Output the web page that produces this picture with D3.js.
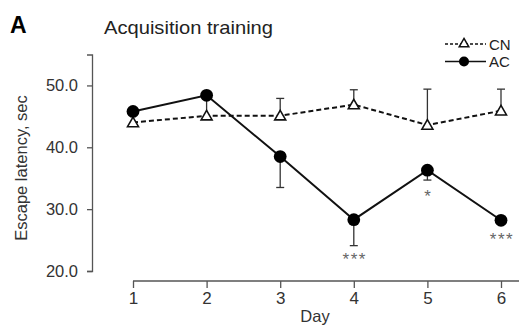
<!DOCTYPE html>
<html>
<head>
<meta charset="utf-8">
<script src="https://cdn.jsdelivr.net/npm/d3@7"></script>
<style>
  body { margin: 0; background: #fff; }
  svg { font-family: Arial, "Liberation Sans", sans-serif; }
</style>
</head>
<body>
<svg id="chart" width="519" height="325"></svg>
<script>
var days = [1, 2, 3, 4, 5, 6];
var cnValues = [44.0, 45.1, 45.1, 46.9, 43.6, 45.9];
var cnErrUp = [44.0, 45.1, 47.9, 49.3, 49.4, 49.4];
var acValues = [45.8, 48.4, 38.5, 28.3, 36.3, 28.2];
var acErrDown = [45.8, 45.3, 33.5, 24.1, 34.7, 27.8];
var stars = ["", "", "", "***", "*", "***"];
var starY = [0, 0, 0, 22.3, 32.4, 25.5];
var yTicks = [20, 30, 40, 50];

var svg = d3.select("#chart");

var x = d3.scaleLinear().domain([1, 6]).range([133, 501]);
var y = d3.scaleLinear().domain([20, 55]).range([271, 54.5]);

var axisColor = "#555";

// y axis
var yAxis = svg.append("g")
    .attr("transform", "translate(92,0)")
    .call(d3.axisLeft(y).tickValues(yTicks).tickSizeOuter(0).tickSize(5).tickPadding(9)
        .tickFormat(d3.format(".1f")));
yAxis.select(".domain").attr("stroke", axisColor).attr("stroke-width", 1.3);
yAxis.selectAll(".tick line").attr("stroke", axisColor).attr("stroke-width", 1.3);
yAxis.selectAll("text").attr("font-size", 16.5).attr("fill", "#333");

// x axis
var xAxis = svg.append("g")
    .attr("transform", "translate(0,281)")
    .call(d3.axisBottom(x).tickValues(days).tickSizeOuter(0).tickSize(7).tickPadding(4)
        .tickFormat(d3.format("d")));
xAxis.select(".domain").attr("d", "M133,0H519").attr("stroke", axisColor).attr("stroke-width", 1.3);
xAxis.selectAll(".tick line").attr("stroke", axisColor).attr("stroke-width", 1.3);
xAxis.selectAll("text").attr("font-size", 17).attr("fill", "#333");

svg.append("text")
    .attr("x", 315).attr("y", 322)
    .attr("text-anchor", "middle")
    .attr("font-size", 16.5).attr("fill", "#333")
    .text("Day");

svg.append("text")
    .attr("transform", "translate(27,168) rotate(-90)")
    .attr("text-anchor", "middle")
    .attr("font-size", 16.5).attr("fill", "#333")
    .text("Escape latency, sec");

svg.append("text")
    .attr("x", 10).attr("y", 33)
    .attr("font-size", 23).attr("font-weight", "bold")
    .attr("fill", "#000")
    .text("A");

svg.append("text")
    .attr("x", 104).attr("y", 34)
    .attr("font-size", 18.5).attr("fill", "#222")
    .attr("textLength", 169).attr("lengthAdjust", "spacingAndGlyphs")
    .text("Acquisition training");

var line = d3.line()
    .x(function(d, i) { return x(days[i]); })
    .y(function(d) { return y(d); });

// CN error bars (upward)
cnValues.forEach(function(v, i) {
    if (cnErrUp[i] - v < 0.5) return;
    svg.append("line")
        .attr("x1", x(days[i])).attr("x2", x(days[i]))
        .attr("y1", y(v)).attr("y2", y(cnErrUp[i]))
        .attr("stroke", "#333").attr("stroke-width", 1.3);
    svg.append("line")
        .attr("x1", x(days[i]) - 4).attr("x2", x(days[i]) + 4)
        .attr("y1", y(cnErrUp[i])).attr("y2", y(cnErrUp[i]))
        .attr("stroke", "#333").attr("stroke-width", 1.3);
});

// AC error bars (downward)
acValues.forEach(function(v, i) {
    if (v - acErrDown[i] < 0.3) return;
    svg.append("line")
        .attr("x1", x(days[i])).attr("x2", x(days[i]))
        .attr("y1", y(v)).attr("y2", y(acErrDown[i]))
        .attr("stroke", "#333").attr("stroke-width", 1.3);
    if (i == 1) return;
    svg.append("line")
        .attr("x1", x(days[i]) - 4).attr("x2", x(days[i]) + 4)
        .attr("y1", y(acErrDown[i])).attr("y2", y(acErrDown[i]))
        .attr("stroke", "#333").attr("stroke-width", 1.3);
});

// CN line
svg.append("path")
    .datum(cnValues)
    .attr("d", line)
    .attr("fill", "none")
    .attr("stroke", "#111")
    .attr("stroke-width", 2)
    .attr("stroke-dasharray", "5,3");

// AC line
svg.append("path")
    .datum(acValues)
    .attr("d", line)
    .attr("fill", "none")
    .attr("stroke", "#111")
    .attr("stroke-width", 2);

var tri = d3.symbol().type(d3.symbolTriangle).size(52);

svg.selectAll(".cn")
    .data(cnValues)
    .enter().append("path")
    .attr("class", "cn")
    .attr("d", tri)
    .attr("transform", function(d, i) { return "translate(" + x(days[i]) + "," + (y(d) + 1) + ")"; })
    .attr("fill", "#fff")
    .attr("stroke", "#111")
    .attr("stroke-width", 1.6);

svg.selectAll(".ac")
    .data(acValues)
    .enter().append("circle")
    .attr("class", "ac")
    .attr("cx", function(d, i) { return x(days[i]); })
    .attr("cy", function(d) { return y(d); })
    .attr("r", 6.4)
    .attr("fill", "#000");

svg.selectAll(".star")
    .data(stars)
    .enter().append("text")
    .attr("class", "star")
    .attr("x", function(d, i) { return x(days[i]) + 1; })
    .attr("y", function(d, i) { return y(starY[i]) + 8; })
    .attr("text-anchor", "middle")
    .attr("font-size", 17)
    .attr("letter-spacing", 1.5)
    .attr("fill", "#666")
    .text(function(d) { return d; });

// legend
var legend = svg.append("g");
legend.append("line")
    .attr("x1", 445).attr("x2", 486).attr("y1", 44).attr("y2", 44)
    .attr("stroke", "#111").attr("stroke-width", 1.5).attr("stroke-dasharray", "3,2");
legend.append("path")
    .attr("d", d3.symbol().type(d3.symbolTriangle).size(40))
    .attr("transform", "translate(464,44)")
    .attr("fill", "#fff").attr("stroke", "#111").attr("stroke-width", 1.5);
legend.append("text")
    .attr("x", 489).attr("y", 49.5)
    .attr("font-size", 15).attr("fill", "#222")
    .text("CN");
legend.append("line")
    .attr("x1", 445).attr("x2", 486).attr("y1", 61.5).attr("y2", 61.5)
    .attr("stroke", "#111").attr("stroke-width", 1.5);
legend.append("circle")
    .attr("cx", 464).attr("cy", 61.5).attr("r", 5)
    .attr("fill", "#000");
legend.append("text")
    .attr("x", 489).attr("y", 67)
    .attr("font-size", 15).attr("fill", "#222")
    .text("AC");
</script>
</body>
</html>
